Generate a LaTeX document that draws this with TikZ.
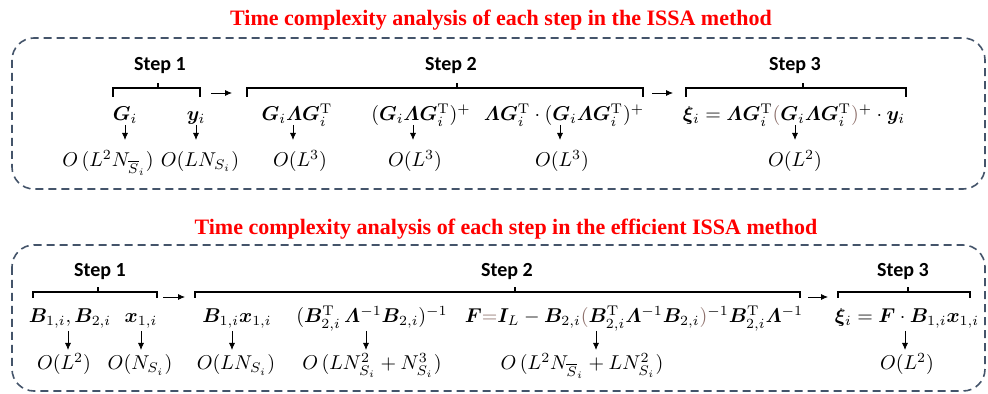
\documentclass[tikz,border=0pt]{standalone}
\usepackage{amsmath,bm}
\usepackage{fontspec}
\newfontfamily\titlefont{Liberation Serif}
\newfontfamily\stepfont{Carlito}
\usetikzlibrary{arrows.meta}
\definecolor{boxc}{RGB}{68,84,106}
\definecolor{titlered}{RGB}{255,0,0}
\definecolor{parc}{RGB}{140,110,105}
\tikzset{
  frame/.style={draw=boxc, line width=0.8pt, dash pattern=on 4pt off 2.5pt, rounded corners=11pt},
  ttl/.style={font=\titlefont\bfseries\fontsize{11}{13}\selectfont, text=titlered, anchor=base, inner sep=0pt},
  steplbl/.style={font=\stepfont\bfseries\fontsize{10}{12}\selectfont, anchor=base, inner sep=0pt},
  mth/.style={font=\fontsize{10}{12}\selectfont, anchor=base, inner sep=0pt},
  cpx/.style={font=\fontsize{10}{12}\selectfont, anchor=base, inner sep=0pt},
  brk/.style={line width=0.75pt},
  darr/.style={line width=0.4pt, -{Latex[length=3.5pt,width=3pt]}},
  sarr/.style={line width=0.4pt, -{Latex[length=3.5pt,width=3pt]}},
}
\begin{document}
\begin{tikzpicture}[x=0.5pt,y=-0.5pt]
\useasboundingbox (0,0) rectangle (988,394);

% ---------------- top panel ----------------
\node[ttl] (t1) at (501,26) {Time complexity analysis of each step in the ISSA method};
\draw[frame] (12,38) rectangle (985,189);

\node[steplbl] (s11) at (160,71) {Step 1};
\node[steplbl] (s12) at (451,71) {Step 2};
\node[steplbl] (s13) at (795,71) {Step 3};

\draw[brk] (113,97) -- (113,88) -- (200,88) -- (200,97);
\draw[brk] (158,88) -- (158,83);
\draw[brk] (247,97) -- (247,88) -- (643,88) -- (643,97);
\draw[brk] (457,88) -- (457,83);
\draw[brk] (686,97) -- (686,88) -- (906,88) -- (906,97);
\draw[brk] (803,88) -- (803,83);

\coordinate (ta1s) at (211,93); \coordinate (ta1e) at (232,93);
\coordinate (ta2s) at (652,93); \coordinate (ta2e) at (673,93);
\draw[sarr] (ta1s) -- (ta1e);
\draw[sarr] (ta2s) -- (ta2e);

\node[mth] (m1) at (125,121) {$\bm{G}_i$};
\node[mth] (m2) at (196,121) {$\bm{y}_i$};
\node[mth] (m3) at (297,121) {$\bm{G}_i\bm{\varLambda}\bm{G}_i^{\mathrm{T}}$};
\node[mth] (m4) at (421,121) {$(\bm{G}_i\bm{\varLambda}\bm{G}_i^{\mathrm{T}})^{+}$};
\node[mth] (m5) at (564,121) {$\bm{\varLambda}\bm{G}_i^{\mathrm{T}}\cdot(\bm{G}_i\bm{\varLambda}\bm{G}_i^{\mathrm{T}})^{+}$};
\node[mth] (m6) at (794,121) {$\bm{\xi}_i=\bm{\varLambda}\bm{G}_i^{\mathrm{T}}{\color{parc}(}\bm{G}_i\bm{\varLambda}\bm{G}_i^{\mathrm{T}}{\color{parc})}^{+}\cdot\bm{y}_i$};

\node[cpx] (c1) at (108,167) {$O\,(L^2N_{\overline{S}_i})$};
\node[cpx] (c2) at (200,167) {$O(LN_{S_i})$};
\node[cpx] (c3) at (300,167) {$O(L^3)$};
\node[cpx] (c4) at (415,167) {$O(L^3)$};
\node[cpx] (c5) at (562,167) {$O(L^3)$};
\node[cpx] (c6) at (795,167) {$O(L^2)$};

\coordinate (a1) at (125,125);
\coordinate (a2) at (196,125);
\coordinate (a3) at (293,125);
\coordinate (a4) at (413,125);
\coordinate (a5) at (560,125);
\coordinate (a6) at (795,125);
\foreach \k in {1,...,6} {\draw[darr] (a\k) -- ++(0,15);}

% ---------------- bottom panel ----------------
\node[ttl] (t2) at (506,235) {Time complexity analysis of each step in the efficient ISSA method};
\draw[frame] (12,245) rectangle (985,391);

\node[steplbl] (s21) at (100,277) {Step 1};
\node[steplbl] (s22) at (507,277) {Step 2};
\node[steplbl] (s23) at (903,277) {Step 3};

\draw[brk] (33,298) -- (33,292) -- (157,292) -- (157,298);
\draw[brk] (98,292) -- (98,287);
\draw[brk] (195,298) -- (195,292) -- (800,292) -- (800,298);
\draw[brk] (515,292) -- (515,287);
\draw[brk] (838,298) -- (838,292) -- (970,292) -- (970,298);
\draw[brk] (908,292) -- (908,287);

\coordinate (ba1s) at (163,297); \coordinate (ba1e) at (185,297);
\coordinate (ba2s) at (808,297); \coordinate (ba2e) at (828,297);
\draw[sarr] (ba1s) -- (ba1e);
\draw[sarr] (ba2s) -- (ba2e);

\node[mth] (n1) at (70,323) {$\bm{B}_{1,i},\bm{B}_{2,i}$};
\node[mth] (n2) at (141,323) {$\bm{x}_{1,i}$};
\node[mth] (n3) at (237,323) {$\bm{B}_{1,i}\bm{x}_{1,i}$};
\node[mth] (n4) at (372,323) {$(\bm{B}_{2,i}^{\mathrm{T}}\,\bm{\varLambda}^{-1}\bm{B}_{2,i})^{-1}$};
\node[mth] (n5) at (634,323) {$\bm{F}{\color{parc}=}\bm{I}_L-\bm{B}_{2,i}{\color{parc}(}\bm{B}_{2,i}^{\mathrm{T}}\bm{\varLambda}^{-1}\bm{B}_{2,i}{\color{parc})}^{-1}\bm{B}_{2,i}^{\mathrm{T}}\bm{\varLambda}^{-1}$};
\node[mth] (n6) at (907,323) {$\bm{\xi}_i=\bm{F}\cdot\bm{B}_{1,i}\bm{x}_{1,i}$};

\node[cpx] (d1) at (64,370) {$O(L^2)$};
\node[cpx] (d2) at (140,370) {$O(N_{S_i})$};
\node[cpx] (d3) at (236,370) {$O(LN_{S_i})$};
\node[cpx] (d4) at (372,370) {$O\,(LN_{S_i}^2+N_{S_i}^3)$};
\node[cpx] (d5) at (582,370) {$O\,(L^2N_{\overline{S}_i}+LN_{S_i}^2)$};
\node[cpx] (d6) at (907,370) {$O(L^2)$};

\coordinate (b1) at (68,331);
\coordinate (b2) at (141,331);
\coordinate (b3) at (232,331);
\coordinate (b4) at (366,331);
\coordinate (b5) at (596,331);
\coordinate (b6) at (905,331);
\foreach \k in {1,...,6} {\draw[darr] (b\k) -- ++(0,19);}
\end{tikzpicture}
\end{document}
